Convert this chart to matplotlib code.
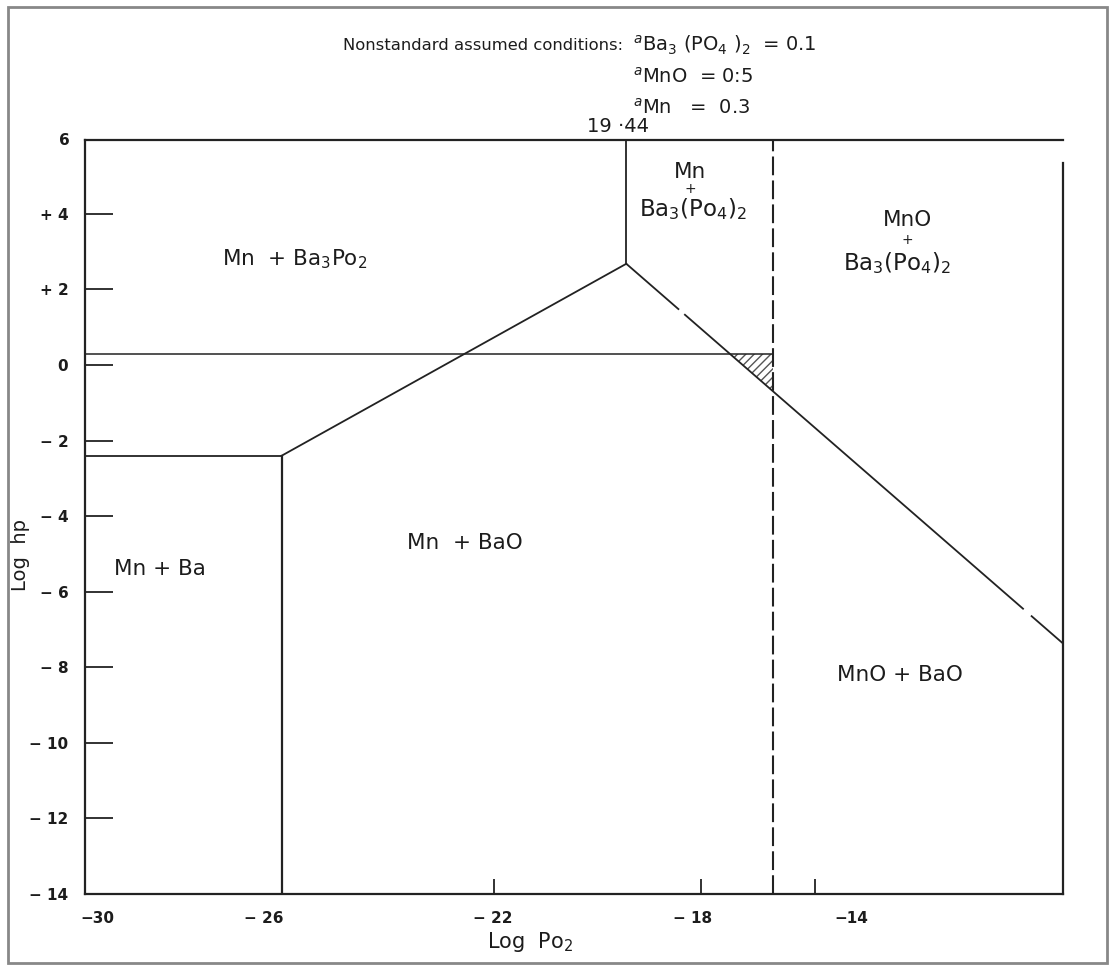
import matplotlib
matplotlib.use("Agg")
import matplotlib.pyplot as plt
from matplotlib.patches import Polygon, Rectangle

# --- axis ranges (log pO2, log hp) ---
x_range = (-29.9, -11.0)
y_range = (-14.0, 5.95)

# x tick marks as drawn on the sheet, and where their labels sit
x_mark_pos = [-22.0, -18.0, -15.8]
x_label_pos = [-29.66, -26.45, -22.02, -18.15, -15.1]
x_labels = ["−30", "− 26", "− 22", "− 18", "−14"]

y_tick_pos = [4, 2, 0, -2, -4, -6, -8, -10, -12, -14]
y_tick_labels = ["+ 4", "+ 2", "0", "− 2", "− 4", "− 6", "− 8", "− 10", "− 12", "− 14"]

# --- phase boundaries ---
triple_x, triple_y = -19.44, 2.68          # Mn / MnO / BaO / Ba3(PO4)2 junction
ba_bao_x = -26.1                           # Ba / BaO boundary (vertical)
ba_bao_y = -2.4                            # Mn+Ba / Mn+Ba3Po2 boundary (horizontal)
h_line_y = 0.3                             # horizontal boundary
dashed_x = -16.6                           # Mn / MnO boundary (dashed)
diag_end = (-11.0, -7.37)                  # MnO+BaO upper boundary at the right edge
diag_breaks = [(-18.42, -18.32), (-11.76, -11.62)]   # pen lifts along the diagonal
right_edge_top = 5.34                      # right frame line stops short of the top

line_col = "#222222"
text_col = "#1c1c1c"

fig = plt.figure(figsize=(11.13, 9.67), dpi=100)
ax = fig.add_axes([0.0764, 0.0755, 0.8787, 0.7795])
ax.set_xlim(*x_range)
ax.set_ylim(*y_range)

for s in ax.spines.values():
    s.set_color(line_col)
    s.set_linewidth(1.6)
ax.spines["right"].set_visible(False)
ax.plot([x_range[1], x_range[1]], [y_range[0], right_edge_top], color=line_col,
        lw=1.6, clip_on=False)

lw = 1.3
# Mn + Ba block
ax.plot([x_range[0], ba_bao_x], [ba_bao_y, ba_bao_y], color=line_col, lw=lw)
ax.plot([ba_bao_x, ba_bao_x], [y_range[0], ba_bao_y], color=line_col, lw=1.6)
# BaO / Ba3(PO4)2 boundary up to the junction
ax.plot([ba_bao_x, triple_x], [ba_bao_y, triple_y], color=line_col, lw=lw)
# vertical line at log pO2 = -19.44
ax.plot([triple_x, triple_x], [triple_y, y_range[1]], color=line_col, lw=lw)

# diagonal down to the right edge, drawn in pieces
slope = (diag_end[1] - triple_y) / (diag_end[0] - triple_x)
xs = [triple_x]
for a, b in diag_breaks:
    xs += [a, b]
xs.append(diag_end[0])
for i in range(0, len(xs), 2):
    x0, x1 = xs[i], xs[i + 1]
    ax.plot([x0, x1], [triple_y + slope * (x0 - triple_x), triple_y + slope * (x1 - triple_x)],
            color=line_col, lw=lw, solid_capstyle="butt")

# horizontal boundary
ax.plot([x_range[0], dashed_x], [h_line_y, h_line_y], color=line_col, lw=1.1)
# dashed Mn / MnO boundary
ax.plot([dashed_x, dashed_x], [y_range[0], y_range[1]], color=line_col, lw=1.5,
        linestyle=(0, (9, 2.5)))

# hatched triangle between horizontal, dashed line and diagonal
x_cross = triple_x + (h_line_y - triple_y) / slope
y_cross = triple_y + slope * (dashed_x - triple_x)
plt.rcParams["hatch.linewidth"] = 1.0
tri = Polygon([(x_cross, h_line_y), (dashed_x, h_line_y), (dashed_x, y_cross)],
              closed=True, fill=False, hatch="////", edgecolor="#555555", lw=0)
ax.add_patch(tri)

# ticks
ax.set_xticks(x_label_pos, x_labels)
ax.set_xticks(x_mark_pos, minor=True)
ax.tick_params(axis="x", which="major", length=0, pad=12, labelsize=11,
               labelcolor=text_col)
ax.tick_params(axis="x", which="minor", direction="in", length=11, width=1.3,
               color=line_col)
ax.set_yticks(y_tick_pos, y_tick_labels)
ax.tick_params(axis="y", which="major", direction="in", length=20, width=1.3,
               color=line_col, pad=12, labelsize=11, labelcolor=text_col)
for t in ax.get_xticklabels() + ax.get_yticklabels():
    t.set_fontweight("bold")
ax.text(x_range[0] - 0.3, y_range[1], "6", ha="right", va="center",
        fontsize=11, fontweight="bold", color=text_col)

ax.set_xlabel("Log  Po$_{2}$", fontsize=15, color=text_col)
ax.xaxis.set_label_coords(0.455, -0.048)
ax.set_ylabel("Log  hp", fontsize=14, color=text_col)
ax.yaxis.set_label_coords(-0.056, 0.45)

# region labels
fs = 15.5
ax.text(-25.85, 2.8, "Mn  + Ba$_3$Po$_2$", fontsize=fs, ha="center", va="center",
        color=text_col)
ax.text(-28.45, -5.4, "Mn + Ba", fontsize=fs, ha="center", va="center", color=text_col)
ax.text(-22.56, -4.7, "Mn  + BaO", fontsize=fs, ha="center", va="center", color=text_col)
ax.text(-14.15, -8.2, "MnO + BaO", fontsize=fs, ha="center", va="center", color=text_col)
ax.text(-18.2, 5.1, "Mn", fontsize=fs, ha="center", va="center", color=text_col)
ax.text(-18.2, 4.65, "+", fontsize=10, ha="center", va="center", color=text_col)
ax.text(-18.15, 4.12, "Ba$_3$(Po$_4$)$_2$", fontsize=16.5, ha="center", va="center",
        color=text_col)
ax.text(-14.0, 3.85, "MnO", fontsize=fs, ha="center", va="center", color=text_col)
ax.text(-14.0, 3.3, "+", fontsize=10, ha="center", va="center", color=text_col)
ax.text(-14.2, 2.7, "Ba$_3$(Po$_4$)$_2$", fontsize=16.5, ha="center", va="center",
        color=text_col)

# value of the vertical boundary above the frame
ax.text(-19.6, y_range[1] + 0.1, "19 ·44", fontsize=14, ha="center", va="bottom",
        color=text_col)

# assumed activities
afs = 14
fig.text(0.308, 0.953, "Nonstandard assumed conditions:", fontsize=11.8,
         ha="left", va="center", color=text_col)
fig.text(0.569, 0.953, r"$^{a}$Ba$_3$ (PO$_4$ )$_2$  = 0.1", fontsize=afs,
         ha="left", va="center", color=text_col)
fig.text(0.569, 0.921, r"$^{a}$MnO  = 0:5", fontsize=afs, ha="left", va="center",
         color=text_col)
fig.text(0.569, 0.889, r"$^{a}$Mn   =  0.3", fontsize=afs, ha="left", va="center",
         color=text_col)

# page border
fig.patches.append(Rectangle((0.007, 0.004), 0.988, 0.989, transform=fig.transFigure,
                             fill=False, edgecolor="#888888", lw=2.0))

fig.savefig("out.png", dpi=100, facecolor="white")
